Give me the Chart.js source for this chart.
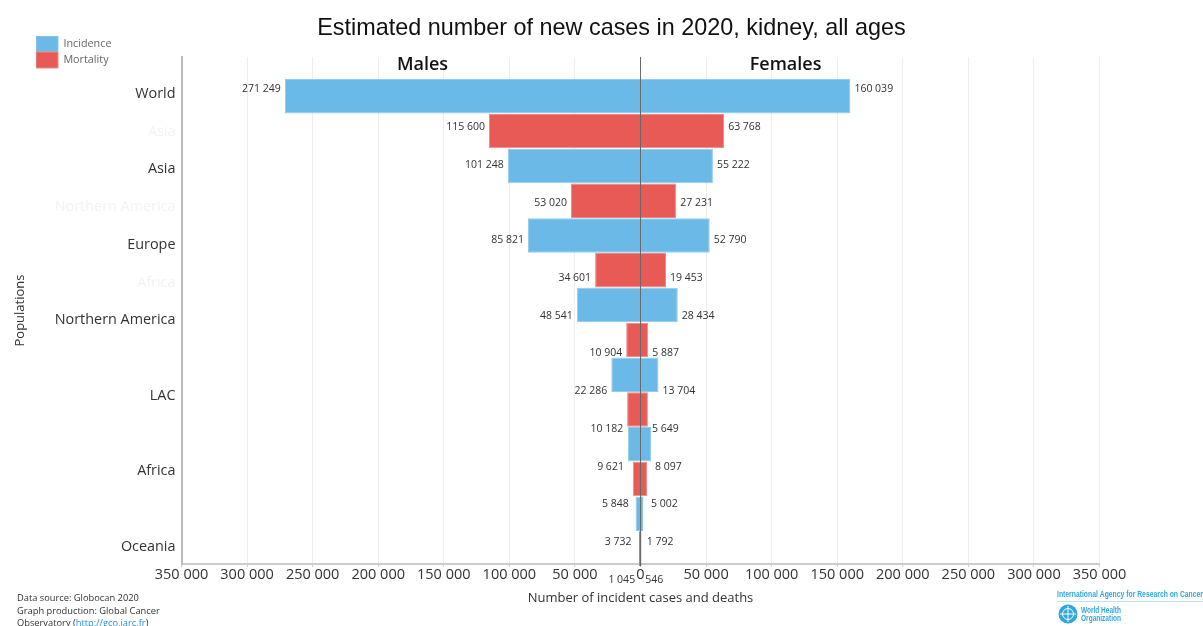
<!DOCTYPE html>
<html><head><meta charset="utf-8">
<style>html,body{margin:0;padding:0;background:#fff;overflow:hidden}#w{position:relative;width:1203px;height:626px}canvas{display:block}</style>
<script src="https://cdn.jsdelivr.net/npm/chart.js@4/dist/chart.umd.min.js"></script>
</head><body><div id="w"><canvas id="c" width="1203" height="626"></canvas></div>
<script>
const chartTitle = "Estimated number of new cases in 2020, kidney, all ages";
const seriesNames = ["Incidence", "Mortality"];
const maleIncidence   = [271249, 101248, 85821, 48541, 22286, 9621, 3732];
const femaleIncidence = [160039, 55222, 52790, 28434, 13704, 8097, 1792];
const maleMortality   = [115600, 53020, 34601, 10904, 10182, 5848, 1045];
const femaleMortality = [63768, 27231, 19453, 5887, 5649, 5002, 546];
const rowLabels = ["World","Asia","Asia","Northern America","Europe","Africa","Northern America","","LAC","","Africa","","Oceania"];
const fadedRows = [1,3,5];
const xTicks = [-350000,-300000,-250000,-200000,-150000,-100000,-50000,0,50000,100000,150000,200000,250000,300000,350000];
const footerLines = ["Data source: Globocan 2020","Graph production: Global Cancer"];

const BLUE="#6bb9e6", RED="#e85a55", FONT='"Open Sans"';
const fmt = v => Math.abs(v).toString().replace(/\B(?=(\d{3})+$)/g," ");
const rows = (arr, off) => arr.map((v,i)=>({x:v, y:2*i+off}));
const neg = arr => arr.map(v=>-v);
function ds(label, data, color, hide){
  return {label, data, backgroundColor:color, borderColor:color==BLUE?"#93cbed":"#ee8a86",
    borderWidth:c=>(c.raw && Math.abs(c.raw.x)<3000)?0:1,
    yAxisID:"y", xAxisID:"x", clip:false, hideInLegend:hide};
}
const layoutPlugin = {
  id:"place",
  afterLayout(ch){
    const t=ch.titleBlock; t.left=20; t.right=1203;
    const l=ch.legend; const w=l.width,h=l.height; l.left=36;l.right=36+w;l.top=36;l.bottom=36+h;
  },
  afterDatasetsDraw(ch){
    const c=ch.ctx, x=ch.scales.x, lab=ch.scales.yl, area=ch.chartArea;
    c.save();
    // centre line
    c.strokeStyle="rgba(60,60,60,.75)"; c.lineWidth=1;
    c.beginPath(); c.moveTo(x.getPixelForValue(0),area.top); c.lineTo(x.getPixelForValue(0),area.bottom+2); c.stroke();
    // value labels
    c.font='10.5px '+FONT; c.fillStyle="#333"; c.textBaseline="middle";
    const put=(m,f,r)=>{
      const y=lab.getPixelForValue(r)-4.5;
      c.textAlign="right"; c.fillText(fmt(m),x.getPixelForValue(-m)-4,y);
      c.textAlign="left"; c.fillText(fmt(f),x.getPixelForValue(f)+4,y);
    };
    maleIncidence.forEach((m,i)=>put(m,femaleIncidence[i],2*i));
    maleMortality.forEach((m,i)=>put(m,femaleMortality[i],2*i+1));
    // side headings
    c.font='600 18px '+FONT; c.fillStyle="#111"; c.textAlign="center";
    c.fillText("Males",x.getPixelForValue(-166200),65);
    c.fillText("Females",x.getPixelForValue(110600),65);
    // footer
    c.font='9.3px '+FONT; c.fillStyle="#333"; c.textAlign="left"; c.textBaseline="middle";
    c.fillText(footerLines[0],17,598); c.fillText(footerLines[1],17,611);
    const p="Observatory (", u="http://gco.iarc.fr", e=")";
    c.fillText(p,17,623); const a=c.measureText(p).width;
    c.fillStyle="#2a8fd0"; c.fillText(u,17+a,623); const b=c.measureText(u).width;
    c.fillStyle="#333"; c.fillText(e,17+a+b,623);
    // logo
    c.fillStyle="#2fa6de"; c.font='bold 9px "Liberation Sans"';
    c.fillText("International Agency for Research on Cancer",1057,594.5,146);
    c.strokeStyle="#bfe4f6"; c.beginPath(); c.moveTo(1057,601.5); c.lineTo(1203,601.5); c.stroke();
    c.font='bold 8.5px "Liberation Sans"';
    c.fillText("World Health",1081,611,40); c.fillText("Organization",1081,618.5,40);
    c.beginPath(); c.arc(1068,614,9.5,0,2*Math.PI); c.fill();
    c.strokeStyle="#fff"; c.lineWidth=1;
    c.beginPath(); c.arc(1068,614,5.5,0,2*Math.PI); c.moveTo(1068,606); c.lineTo(1068,622); c.moveTo(1060,614); c.lineTo(1076,614); c.stroke();
    c.restore();
  }
};
new Chart(document.getElementById("c"),{
  type:"bar",
  plugins:[layoutPlugin],
  data:{datasets:[
    ds(seriesNames[0],rows(neg(maleIncidence),0),BLUE,false),
    ds(seriesNames[1],rows(neg(maleMortality),1),RED,false),
    ds(seriesNames[0]+" (females)",rows(femaleIncidence,0),BLUE,true),
    ds(seriesNames[1]+" (females)",rows(femaleMortality,1),RED,true)
  ]},
  options:{
    indexAxis:"y", responsive:false, animation:false, grouped:false,
    barPercentage:1, categoryPercentage:.99,
    layout:{autoPadding:false,padding:{left:0,right:103.5,top:0,bottom:0}},
    plugins:{
      title:{display:true,text:chartTitle,color:"#111",font:{family:'"Liberation Sans"',size:23.4,weight:"normal",lineHeight:1.2},padding:{top:14.5,bottom:14.4}},
      legend:{position:"chartArea",align:"start",
        labels:{boxWidth:22,boxHeight:16,padding:0,color:"#666",font:{family:FONT,size:10.8},
          filter:(it,d)=>!d.datasets[it.datasetIndex].hideInLegend}},
      tooltip:{enabled:false}
    },
    scales:{
      x:{type:"linear",position:"bottom",min:-350000,max:350000,
        afterBuildTicks:s=>{s.ticks=xTicks.map(v=>({value:v}));},
        afterFit:s=>{s.height=62;},
        grid:{color:"#eeeeee",tickLength:3,tickColor:"#ccc"},
        border:{color:"#cccccc",width:2},
        ticks:{autoSkip:false,maxRotation:0,minRotation:0,padding:-1,color:"#333",font:{family:FONT,size:14.5},callback:v=>fmt(v)},
        title:{display:true,text:"Number of incident cases and deaths",color:"#333",font:{family:FONT,size:13},padding:{top:0,bottom:20}}
      },
      y:{type:"linear",display:false,reverse:true,offset:false,grid:{offset:false},min:-1.13,max:13.44},
      yl:{type:"linear",position:"left",reverse:true,offset:false,min:-0.98,max:12.465,
        afterBuildTicks:s=>{s.ticks=rowLabels.map((_,i)=>({value:i}));},
        afterFit:s=>{s.width=181.5;},
        grid:{offset:false,drawOnChartArea:false,drawTicks:false},
        border:{color:"#bbbbbb",width:2},
        ticks:{autoSkip:false,padding:6,font:{family:FONT,size:14.4},
          color:c=>fadedRows.includes(c.tick.value)?"#f3f3f3":"#333",
          callback:(v,i)=>rowLabels[v]},
        title:{display:true,text:"Populations",color:"#333",font:{family:FONT,size:13},padding:{top:12,bottom:0}}
      }
    }
  }
});
</script></body></html>
